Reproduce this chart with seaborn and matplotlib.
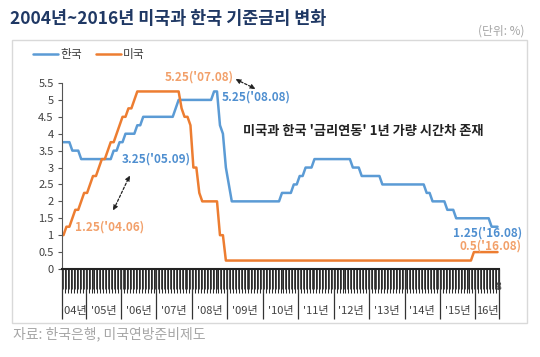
import matplotlib
matplotlib.use('Agg')
import matplotlib.pyplot as plt
import matplotlib.patches as mpatches
import numpy as np
import pandas as pd
import seaborn as sns

# 월별 기준금리 (2004.05 ~ 2016.08, 월말 기준)
months = pd.period_range('2004-05', '2016-08', freq='M')

korea = [
    3.75, 3.75, 3.75, 3.5, 3.5, 3.5, 3.25, 3.25,                   # 2004
    3.25, 3.25, 3.25, 3.25, 3.25, 3.25, 3.25, 3.25, 3.25, 3.5, 3.5, 3.75,  # 2005
    3.75, 4.0, 4.0, 4.0, 4.0, 4.25, 4.25, 4.5, 4.5, 4.5, 4.5, 4.5,  # 2006
    4.5, 4.5, 4.5, 4.5, 4.5, 4.5, 4.75, 5.0, 5.0, 5.0, 5.0, 5.0,    # 2007
    5.0, 5.0, 5.0, 5.0, 5.0, 5.0, 5.0, 5.25, 5.25, 4.25, 4.0, 3.0,  # 2008
    2.5, 2.0, 2.0, 2.0, 2.0, 2.0, 2.0, 2.0, 2.0, 2.0, 2.0, 2.0,     # 2009
    2.0, 2.0, 2.0, 2.0, 2.0, 2.0, 2.25, 2.25, 2.25, 2.25, 2.5, 2.5,  # 2010
    2.75, 2.75, 3.0, 3.0, 3.0, 3.25, 3.25, 3.25, 3.25, 3.25, 3.25, 3.25,  # 2011
    3.25, 3.25, 3.25, 3.25, 3.25, 3.25, 3.0, 3.0, 3.0, 2.75, 2.75, 2.75,  # 2012
    2.75, 2.75, 2.75, 2.75, 2.5, 2.5, 2.5, 2.5, 2.5, 2.5, 2.5, 2.5,  # 2013
    2.5, 2.5, 2.5, 2.5, 2.5, 2.5, 2.5, 2.25, 2.25, 2.0, 2.0, 2.0,   # 2014
    2.0, 2.0, 1.75, 1.75, 1.75, 1.5, 1.5, 1.5, 1.5, 1.5, 1.5, 1.5,  # 2015
    1.5, 1.5, 1.5, 1.5, 1.5, 1.25, 1.25, 1.25,                      # 2016
]

usa = [
    1.0, 1.25, 1.25, 1.5, 1.75, 1.75, 2.0, 2.25,                    # 2004
    2.25, 2.5, 2.75, 2.75, 3.0, 3.25, 3.25, 3.5, 3.75, 3.75, 4.0, 4.25,  # 2005
    4.5, 4.5, 4.75, 4.75, 5.0, 5.25, 5.25, 5.25, 5.25, 5.25, 5.25, 5.25,  # 2006
    5.25, 5.25, 5.25, 5.25, 5.25, 5.25, 5.25, 5.25, 4.75, 4.5, 4.5, 4.25,  # 2007
    3.0, 3.0, 2.25, 2.0, 2.0, 2.0, 2.0, 2.0, 2.0, 1.0, 1.0, 0.25,   # 2008
    0.25, 0.25, 0.25, 0.25, 0.25, 0.25, 0.25, 0.25, 0.25, 0.25, 0.25, 0.25,  # 2009
    0.25, 0.25, 0.25, 0.25, 0.25, 0.25, 0.25, 0.25, 0.25, 0.25, 0.25, 0.25,  # 2010
    0.25, 0.25, 0.25, 0.25, 0.25, 0.25, 0.25, 0.25, 0.25, 0.25, 0.25, 0.25,  # 2011
    0.25, 0.25, 0.25, 0.25, 0.25, 0.25, 0.25, 0.25, 0.25, 0.25, 0.25, 0.25,  # 2012
    0.25, 0.25, 0.25, 0.25, 0.25, 0.25, 0.25, 0.25, 0.25, 0.25, 0.25, 0.25,  # 2013
    0.25, 0.25, 0.25, 0.25, 0.25, 0.25, 0.25, 0.25, 0.25, 0.25, 0.25, 0.25,  # 2014
    0.25, 0.25, 0.25, 0.25, 0.25, 0.25, 0.25, 0.25, 0.25, 0.25, 0.25, 0.5,   # 2015
    0.5, 0.5, 0.5, 0.5, 0.5, 0.5, 0.5, 0.5,                         # 2016
]

year_labels = ["'04년", "'05년", "'06년", "'07년", "'08년", "'09년", "'10년",
               "'11년", "'12년", "'13년", "'14년", "'15년", "16년"]
y_ticks = [0, 0.5, 1, 1.5, 2, 2.5, 3, 3.5, 4, 4.5, 5, 5.5]
y_ticklabels = ['0', '0.5', '1', '1.5', '2', '2.5', '3', '3.5', '4', '4.5', '5', '5.5']

BLUE = '#5b9bd5'
ORANGE = '#ed7d31'

sns.set_theme(style='white')
plt.rcParams['font.family'] = ['Noto Sans CJK KR', 'DejaVu Sans']

idx = np.arange(len(months))
df = pd.DataFrame({
    'idx': np.concatenate([idx, idx]),
    'rate': korea + usa,
    'country': ['한국'] * len(korea) + ['미국'] * len(usa),
})

W, H = 540, 357
fig = plt.figure(figsize=(W / 100, H / 100), dpi=100)
ax = fig.add_axes([62 / W, 1 - 269 / H, (499 - 62) / W, (269 - 83) / H])

sns.lineplot(data=df, x='idx', y='rate', hue='country', hue_order=['한국', '미국'],
             palette={'한국': BLUE, '미국': ORANGE}, linewidth=1.8, ax=ax)

ax.set_xlim(-0.5, len(months) - 0.5)
ax.set_ylim(0, 5.5)
ax.set_xlabel('')
ax.set_ylabel('')

# 축 눈금
ax.set_yticks(y_ticks)
ax.set_yticklabels(y_ticklabels, fontsize=8, color='#404040')
year_start = [i - 0.5 for i, m in enumerate(months) if m.month == 1]
bounds = [-0.5] + year_start + [len(months) - 0.5]
ax.set_xticks(bounds)
ax.set_xticklabels([])
ax.set_xticks(np.arange(-0.5, len(months), 1.0), minor=True)
ax.tick_params(axis='x', which='major', direction='out', length=36, width=0.9,
               color='#333333', bottom=True)
ax.tick_params(axis='x', which='minor', direction='out', length=17, width=0.75,
               color='#2a2a2a', bottom=True)
ax.tick_params(axis='y', which='major', direction='out', length=3, width=0.8,
               color='#555555', pad=3, left=True)
for s in ['top', 'right']:
    ax.spines[s].set_visible(False)
ax.spines['left'].set_color('#555555')
ax.spines['left'].set_linewidth(0.8)
ax.spines['bottom'].set_color('#222222')
ax.spines['bottom'].set_linewidth(1.5)

# 축 바로 아래 짧은 눈금 (촘촘한 띠)
ax.vlines(idx, -0.11, 0, transform=ax.get_xaxis_transform(), color='#2a2a2a',
          linewidth=0.6, clip_on=False)

trans = ax.get_xaxis_transform()
for lab, a, b in zip(year_labels, bounds[:-1], bounds[1:]):
    ax.text((a + b) / 2, -0.225, lab, transform=trans, ha='center', va='center',
            fontsize=8, color='#404040')

# 범례
leg = ax.legend(loc='upper left', bbox_to_anchor=(33 / W, 1 - 48 / H),
                bbox_transform=fig.transFigure, ncol=2, frameon=False, fontsize=8.5,
                handlelength=2.1, handletextpad=0.2, columnspacing=1.2,
                borderaxespad=0, borderpad=0)
for t in leg.get_texts():
    t.set_color('#404040')

# 테두리
fig.add_artist(mpatches.Rectangle((12 / W, 1 - 323 / H), (527 - 12) / W, (323 - 40) / H,
                                  transform=fig.transFigure, fill=False,
                                  edgecolor='#d9d9d9', linewidth=1))

# 제목 / 단위 / 출처
fig.text(10 / W, 1 - 19 / H, '2004년~2016년 미국과 한국 기준금리 변화', fontsize=12.5,
         fontweight='bold', color='#1f3864', va='center', ha='left')
fig.text(525 / W, 1 - 31 / H, '(단위: %)', fontsize=8.5, color='#a6a6a6',
         va='center', ha='right')
fig.text(13 / W, 1 - 334 / H, '자료: 한국은행, 미국연방준비제도', fontsize=10,
         color='#a6a6a6', va='center', ha='left')

# 주석
def ftext(x, y, s, color, ha='left', size=8.5):
    fig.text(x / W, 1 - y / H, s, fontsize=size, fontweight='bold', color=color,
             va='center', ha=ha)

ftext(165, 77, "5.25('07.08)", '#f2a06a')
ftext(222, 97, "5.25('08.08)", '#4f8fd0')
ftext(122, 159, "3.25('05.09)", '#4f8fd0')
ftext(75, 227, "1.25('04.06)", '#f2a06a')
ftext(522, 233, "1.25('16.08)", '#4f8fd0', ha='right')
ftext(522, 246, "0.5('16.08)", '#f2a06a', ha='right')
ftext(243, 131, "미국과 한국 '금리연동' 1년 가량 시간차 존재", '#222222', size=9.5)
fig.text(498 / W, 1 - 287 / H, '8', fontsize=7.5, color='#404040', va='center', ha='center')

for (x1, y1), (x2, y2) in [((233, 78), (258, 90)), ((112, 213), (131, 173))]:
    fig.add_artist(mpatches.FancyArrowPatch(
        (x1 / W, 1 - y1 / H), (x2 / W, 1 - y2 / H), transform=fig.transFigure,
        arrowstyle='<|-|>', mutation_scale=7, linestyle=(0, (2, 1.5)),
        color='#222222', linewidth=0.9))

fig.savefig('out.png', dpi=100)
